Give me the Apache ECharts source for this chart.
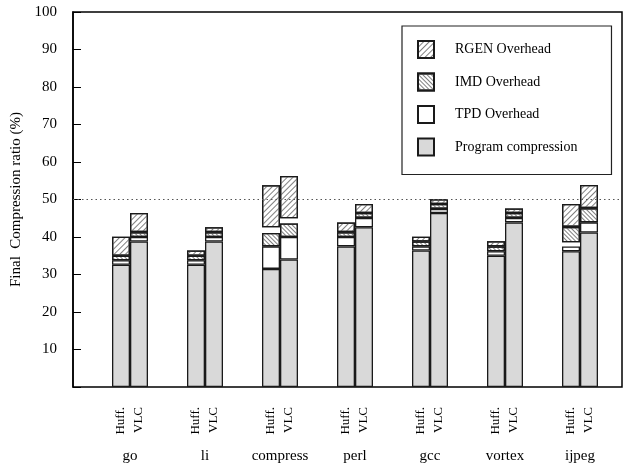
<!DOCTYPE html>
<html>
<head>
<meta charset="utf-8">
<script src="https://cdn.jsdelivr.net/npm/echarts@6/dist/echarts.min.js"></script>
<style>
  html, body { margin: 0; padding: 0; background: #fff; }
  #chart { width: 632px; height: 470px; }
</style>
</head>
<body>
<div id="chart"></div>
<script>
// Benchmarks and the two encodings compared for each of them
const categories = ['go', 'li', 'compress', 'perl', 'gcc', 'vortex', 'ijpeg'];
const encodings = ['Huff.', 'VLC'];

// Stacked segments (percent), Huffman encoding
const huffProgram = [32.6, 32.6, 31.5, 37.5, 36.4, 35.0, 36.2];
const huffTPD     = [1.2, 1.2, 6.0, 2.5, 1.1, 1.2, 1.3];
const huffGapLow  = [0, 0, 0, 0, 0, 0, 1.1];
const huffIMD     = [1.2, 1.2, 3.6, 1.3, 1.3, 1.3, 4.1];
const huffGapHigh = [0, 0, 1.5, 0, 0, 0, 0];
const huffRGEN    = [5.1, 1.4, 11.2, 2.6, 1.3, 1.4, 6.1];

// Stacked segments (percent), VLC encoding
const vlcProgram  = [38.8, 38.8, 34.0, 42.6, 46.4, 43.9, 41.2];
const vlcTPD      = [1.2, 1.2, 6.0, 2.5, 1.1, 1.2, 2.7];
const vlcGapLow   = [0, 0, 0, 0, 0, 0, 0];
const vlcIMD      = [1.3, 1.3, 3.6, 1.3, 1.3, 1.3, 3.8];
const vlcGapHigh  = [0, 0, 1.4, 0, 0, 0, 0];
const vlcRGEN     = [5.1, 1.3, 11.3, 2.4, 1.3, 1.2, 6.2];

// Legend entries, top to bottom
const legendNames = ['RGEN Overhead', 'IMD Overhead', 'TPD Overhead', 'Program compression'];

// Y axis range and the dotted reference level
const yMin = 0, yMax = 100, yStep = 10;
const referenceLevel = 50;

const SERIF = '"Liberation Serif", "DejaVu Serif", serif';
const EDGE = '#1a1a1a';

const segStyle = {
  program: { color: '#d9d9d9', borderColor: EDGE, borderWidth: 1.3 },
  tpd: { color: '#ffffff', borderColor: EDGE, borderWidth: 1.3 },
  imd: {
    color: '#ffffff', borderColor: EDGE, borderWidth: 1.3,
    decal: { symbol: 'rect', symbolSize: 1, dashArrayX: [1, 0], dashArrayY: [1, 2],
             rotation: Math.PI / 4, color: '#808080' }
  },
  rgen: {
    color: '#ffffff', borderColor: EDGE, borderWidth: 1.3,
    decal: { symbol: 'rect', symbolSize: 1, dashArrayX: [1, 0], dashArrayY: [1, 3],
             rotation: -Math.PI / 4, color: '#808080' }
  },
  gap: { color: 'rgba(255,255,255,0)', borderWidth: 0 }
};

function encodingLabel(text) {
  return {
    show: true,
    position: 'bottom',
    distance: 20,
    rotate: 90,
    align: 'right',
    verticalAlign: 'middle',
    formatter: text,
    fontFamily: SERIF,
    fontSize: 13,
    color: '#000'
  };
}

function seg(name, stack, data, style, extra) {
  return Object.assign({
    name: name,
    type: 'bar',
    xAxisIndex: 1,
    yAxisIndex: 1,
    stack: stack,
    data: data,
    barWidth: 18,
    barGap: '0%',
    itemStyle: style,
    emphasis: { disabled: true },
    z: 3
  }, extra || {});
}

const series = [
  // Empty carrier for the dotted reference line across the frame
  {
    type: 'line', xAxisIndex: 0, yAxisIndex: 0, data: [], silent: true, z: 1,
    markLine: {
      silent: true, symbol: ['none', 'none'], label: { show: false },
      lineStyle: { type: [1.5, 3], color: '#555', width: 1 },
      data: [{ yAxis: referenceLevel }]
    }
  },
  seg('Program compression', 'huff', huffProgram, segStyle.program, { label: encodingLabel(encodings[0]) }),
  seg('TPD Overhead', 'huff', huffTPD, segStyle.tpd),
  seg('gapLowHuff', 'huff', huffGapLow, segStyle.gap),
  seg('IMD Overhead', 'huff', huffIMD, segStyle.imd),
  seg('gapHighHuff', 'huff', huffGapHigh, segStyle.gap),
  seg('RGEN Overhead', 'huff', huffRGEN, segStyle.rgen),
  seg('Program compression', 'vlc', vlcProgram, segStyle.program, { label: encodingLabel(encodings[1]) }),
  seg('TPD Overhead', 'vlc', vlcTPD, segStyle.tpd),
  seg('gapLowVlc', 'vlc', vlcGapLow, segStyle.gap),
  seg('IMD Overhead', 'vlc', vlcIMD, segStyle.imd),
  seg('gapHighVlc', 'vlc', vlcGapHigh, segStyle.gap),
  seg('RGEN Overhead', 'vlc', vlcRGEN, segStyle.rgen)
];

const chart = echarts.init(document.getElementById('chart'), null, { renderer: 'canvas' });
chart.setOption({
  animation: false,
  backgroundColor: '#fff',
  textStyle: { fontFamily: SERIF },
  grid: [
    // Frame and value axis
    { left: 73, right: 10, top: 12, bottom: 83, show: true, borderColor: '#000', borderWidth: 1.5, backgroundColor: 'transparent' },
    // Bar area
    { left: 92.5, width: 525, top: 12, bottom: 83 }
  ],
  xAxis: [
    { gridIndex: 0, type: 'value', min: 0, max: 1, show: false },
    {
      gridIndex: 1, type: 'category', data: categories,
      axisLine: { show: false }, axisTick: { show: false },
      axisLabel: { margin: 62, fontFamily: SERIF, fontSize: 15, color: '#000' }
    }
  ],
  yAxis: [
    {
      gridIndex: 0, type: 'value', min: yMin, max: yMax, interval: yStep,
      name: 'Final  Compression ratio (%)',
      nameLocation: 'middle', nameGap: 46,
      nameTextStyle: { fontFamily: SERIF, fontSize: 15, color: '#000' },
      axisLine: { show: true, lineStyle: { color: '#000', width: 1.5 } },
      axisTick: { show: true, inside: true, length: 8, lineStyle: { color: '#000', width: 1 } },
      axisLabel: {
        margin: 16, fontFamily: SERIF, fontSize: 15, color: '#000',
        formatter: v => (v === yMin ? '' : String(v))
      },
      splitLine: { show: false }
    },
    { gridIndex: 1, type: 'value', min: yMin, max: yMax, interval: yStep, show: false }
  ],
  legend: {
    data: legendNames.map(n => ({ name: n, icon: 'rect' })),
    orient: 'vertical',
    left: 402, top: 26,
    padding: [14, 34, 18, 15],
    itemGap: 13.5,
    itemWidth: 16, itemHeight: 17,
    borderColor: '#222', borderWidth: 1.2,
    backgroundColor: '#fff',
    selectedMode: false,
    textStyle: { fontFamily: SERIF, fontSize: 14, color: '#000', padding: [0, 0, 0, 16] }
  },
  series: series
});
</script>
</body>
</html>
